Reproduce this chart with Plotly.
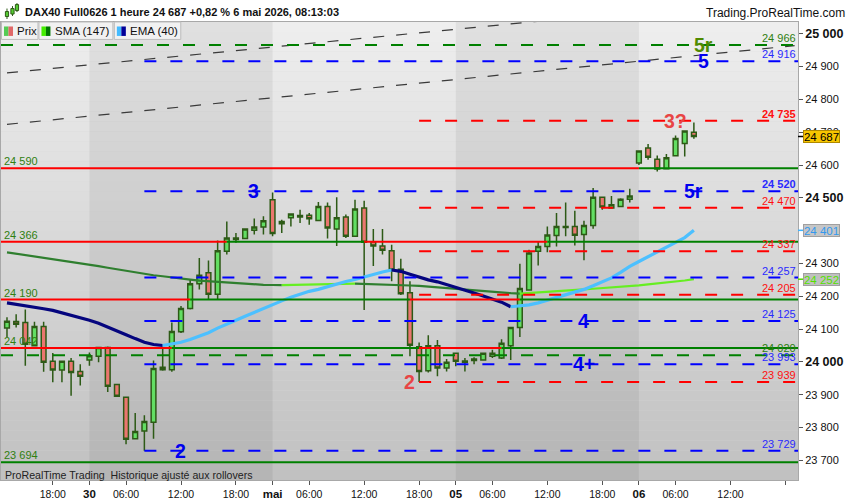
import plotly.graph_objects as go
import pandas as pd

# ------------------------------------------------------------------ data
session_days = ["2026-04-29", "2026-04-30", "2026-05-04", "2026-05-05", "2026-05-06"]
session_first_hour = [13, 2, 2, 2, 2]
session_last_hour = [21, 21, 21, 21, 21]
day_labels = ["29", "30", "mai", "05", "06"]

opens = [24103, 24123, 24120, 24049, 24108, 24002, 23975, 24002, 23971, 24006,
         24017, 24044, 23931, 23892, 23766, 23789, 23816, 23984, 23976, 24092,
         24163, 24238, 24272, 24206, 24337, 24373, 24376, 24401, 24411, 24494,
         24421, 24439, 24442, 24447, 24431, 24474, 24405, 24442, 24383, 24469,
         24366, 24353, 24339, 24282, 24211, 24046, 23973, 24049, 23981, 24026,
         23999, 24004, 24006, 24017, 24012, 24049, 24105, 24219, 24337, 24352,
         24385, 24410, 24413, 24388, 24416, 24502, 24469, 24474, 24496, 24606,
         24652, 24618, 24589, 24628, 24666, 24700]
highs = [24136, 24145, 24160, 24122, 24122, 24027, 24002, 24012, 23993, 24029,
         24044, 24047, 23931, 23892, 23844, 23837, 24004, 24039, 24120, 24170,
         24251, 24317, 24309, 24370, 24428, 24393, 24405, 24437, 24444, 24516,
         24433, 24451, 24464, 24454, 24487, 24486, 24502, 24449, 24494, 24491,
         24405, 24405, 24357, 24314, 24246, 24059, 24081, 24067, 24009, 24029,
         24012, 24014, 24026, 24037, 24069, 24105, 24299, 24342, 24368, 24413,
         24454, 24486, 24461, 24430, 24530, 24502, 24506, 24499, 24528, 24643,
         24664, 24629, 24634, 24690, 24704, 24730]
lows = [24075, 24105, 23988, 24049, 23970, 23938, 23938, 23897, 23928, 23988,
        23999, 23908, 23895, 23749, 23766, 23729, 23766, 23973, 23970, 24088,
        24160, 24221, 24189, 24191, 24327, 24363, 24376, 24388, 24388, 24383,
        24393, 24413, 24423, 24418, 24431, 24376, 24353, 24378, 24383, 24158,
        24292, 24327, 24246, 24204, 24017, 23939, 23968, 23956, 23971, 23987,
        23971, 23993, 24006, 24012, 24009, 24006, 24076, 24219, 24294, 24334,
        24352, 24383, 24355, 24310, 24406, 24464, 24469, 24471, 24486, 24600,
        24616, 24580, 24589, 24628, 24626, 24680]
closes = [24124, 24115, 24054, 24108, 23999, 23975, 24002, 23968, 23956, 24019,
          24044, 23926, 23895, 23764, 23788, 23818, 23980, 23976, 24093, 24163,
          24238, 24264, 24206, 24339, 24378, 24378, 24405, 24411, 24430, 24391,
          24428, 24451, 24446, 24436, 24474, 24408, 24439, 24383, 24466, 24365,
          24353, 24340, 24280, 24208, 24051, 23971, 24049, 23981, 23999, 24002,
          24003, 24009, 24026, 24026, 24057, 24105, 24224, 24332, 24352, 24387,
          24413, 24413, 24386, 24416, 24502, 24472, 24479, 24496, 24506, 24643,
          24624, 24588, 24622, 24681, 24704, 24687]

sma147 = [24334, 24330, 24326, 24322, 24318, 24314, 24309, 24305, 24302, 24298,
          24292, 24287, 24282, 24277, 24273, 24268, 24264, 24261, 24257, 24254,
          24251, 24248, 24246, 24244, 24241, 24239, 24238, 24236, 24235, 24234.4,
          24233.8, 24234.4, 24235.0, 24235.7, 24236.3, 24236.9, 24237.5, 24238.1, 24238.4, 24237.8,
          24236.9, 24236.0, 24235.0, 24234.1, 24232.9, 24231.4, 24229.0, 24226.9, 24224.7, 24222.3,
          24220.2, 24217.7, 24215.3, 24213.2, 24211.1, 24209.3, 24208.0, 24210.2, 24212.0, 24213.8,
          24215.6, 24217.4, 24219.3, 24221.1, 24222.9, 24224.7, 24226.6, 24228.4, 24230.8, 24233.2,
          24236.0, 24238.7, 24241.4, 24244.5, 24248.1, 24252.0]
ema40 = [24180, 24176, 24171, 24166, 24162, 24157, 24150, 24142, 24135, 24127,
         24118, 24107, 24095, 24083, 24071, 24060, 24053, 24050, 24054, 24060,
         24068, 24078, 24089, 24103, 24116, 24127, 24139, 24151, 24163, 24176,
         24186, 24197, 24206, 24215, 24221, 24229, 24238, 24245, 24251, 24259,
         24265, 24274, 24280, 24276, 24267, 24258, 24250, 24244, 24236, 24227,
         24218, 24210, 24201, 24192, 24182, 24168, 24170, 24174, 24180, 24188,
         24195, 24203, 24212, 24221, 24232, 24244, 24256, 24273, 24291, 24306,
         24321, 24336, 24350, 24364, 24379, 24401]

# solid support / resistance levels, bar index where price flips side
solid_levels = [24590, 24366, 24190, 24042, 23694]
solid_flip_bars = [[69], [24, 39, 59], [20, 44, 56], [18, 45, 54], []]
solid_price_above_at_start = [False, False, False, False, True]

# dashed projection levels, group and first bar
dashed_levels = [24966, 24916, 24735, 24520, 24470, 24337, 24257, 24205, 24125, 24020, 23993, 23939, 23729]
dashed_group = ["green", "blue", "red", "blue", "red", "red", "blue", "red", "blue", "green", "blue", "red", "blue"]
dashed_first_bar = [None, 15, 45, 15, 45, 45, 15, 45, 15, None, 15, 45, 15]
dashed_label_bold = [False, False, True, True, False, False, False, False, False, False, False, False, False]

# trend lines (value at two bar indices)
trend_bars = [[0, 86], [0, 86]]
trend_values = [[24881, 25114], [24724, 24964]]

# wave counts
wave_text = ["5r", "5", "3?", "3", "5r", "4", "4+", "2", "2"]
wave_level = [24966, 24916, 24735, 24520, 24520, 24125, 23993, 23939, 23729]
wave_bar = [76.1, 76.0, 73.0, 26.9, 75.0, 62.9, 63.0, 43.9, 18.9]
wave_group = ["olive", "blue", "red", "blue", "blue", "blue", "blue", "red", "blue"]

y_ticks = list(range(23700, 25001, 100))
last_price = 24687
title_text = "DAX40 Full0626 1 heure 24 687 +0,82 % 6 mai 2026, 08:13:03"

# ------------------------------------------------------------------ styles
FONT = "Liberation Sans, Arial, sans-serif"
W, H = 850, 500
ML, MR, MT, MB = 0, 52, 22, 18
PW, PH = W - ML - MR, H - MT - MB
X_LEFT, X_RIGHT = -0.6543, 86.369
Y_LO, Y_HI = 23640, 25036
COL = {"red": "#ff0000", "green": "#008000", "blue": "#0000ff", "olive": "#4f8a00"}
LBL = {"red": "#ff1010", "green": "#2f7f10", "blue": "#2a2aff"}
WAVE = {"red": "#e84545", "blue": "#0000ee", "olive": "#4f8a00"}


def fx(px):
    return (px - ML) / PW


def fy(py):
    return (MT + PH - py) / PH


def fmt(v):
    return f"{v:,}".replace(",", " ")


# ------------------------------------------------------------------ timeline / ticks
times, sess = [], []
for k, (d, h0, h1) in enumerate(zip(session_days, session_first_hour, session_last_hour)):
    for h in range(h0, h1 + 1):
        times.append(pd.Timestamp(d) + pd.Timedelta(hours=h))
        sess.append(k)
idx = list(range(len(opens)))

tick_vals, tick_text = [], []
for i, t in enumerate(times):
    if i > 0 and sess[i] != sess[i - 1]:
        tick_vals.append(i)
        tick_text.append(f"<span style='font-size:11.5px'><b>{day_labels[sess[i]]}</b></span>")
    elif t.hour in (6, 12, 18):
        tick_vals.append(i)
        tick_text.append(f"{t.hour:02d}:00" if i < 82 else "")

day_start = [i for i in range(1, len(times)) if sess[i] != sess[i - 1]]

fig = go.Figure()

# candles
fig.add_trace(go.Candlestick(
    x=idx, open=opens, high=highs, low=lows, close=closes,
    increasing=dict(line=dict(color="#2d5a16", width=1.5), fillcolor="#63de63"),
    decreasing=dict(line=dict(color="#2d5a16", width=1.5), fillcolor="#ea766f"),
    whiskerwidth=0, showlegend=False, hoverinfo="skip"))


# moving averages coloured by slope
def add_ma(values, rise_col, fall_col, width):
    start = 0
    for i in range(1, len(values)):
        up = values[i] > values[i - 1]
        nxt_up = values[i + 1] > values[i] if i + 1 < len(values) else None
        if nxt_up is None or nxt_up != up:
            fig.add_trace(go.Scatter(
                x=idx[start:i + 1], y=values[start:i + 1], mode="lines",
                line=dict(color=rise_col if up else fall_col, width=width),
                showlegend=False, hoverinfo="skip"))
            start = i


add_ma(sma147, "#66ee22", "#2f7f2f", 2.2)
add_ma(ema40, "#4cc0ff", "#05057e", 3.2)

# trend lines
for bx, bv in zip(trend_bars, trend_values):
    fig.add_trace(go.Scatter(x=bx, y=bv, mode="lines",
                             line=dict(color="#3a3a3a", width=1.2, dash="11px,12px"),
                             showlegend=False, hoverinfo="skip"))

# dashed levels
for lvl, grp, fb in zip(dashed_levels, dashed_group, dashed_first_bar):
    x0 = X_LEFT if fb is None else fb
    fig.add_trace(go.Scatter(x=[x0, X_RIGHT + 1], y=[lvl, lvl], mode="lines",
                             line=dict(color=COL[grp], width=2, dash="12px,14px"),
                             showlegend=False, hoverinfo="skip"))

# solid levels
for lvl, flips, above in zip(solid_levels, solid_flip_bars, solid_price_above_at_start):
    bounds = [X_LEFT - 1] + flips + [X_RIGHT + 1]
    state = above
    for k in range(len(bounds) - 1):
        fig.add_trace(go.Scatter(x=[bounds[k], bounds[k + 1]], y=[lvl, lvl], mode="lines",
                                 line=dict(color=COL["green"] if state else COL["red"], width=2),
                                 showlegend=False, hoverinfo="skip"))
        state = not state

# ------------------------------------------------------------------ shapes
shapes = []
NB = 46
top_c, bot_c = 238, 193
for k in range(NB):
    c = int(round(bot_c + (top_c - bot_c) * (k + 0.5) / NB))
    shapes.append(dict(type="rect", xref="paper", yref="paper", x0=0, x1=1,
                       y0=k / NB, y1=(k + 1) / NB, line=dict(width=0),
                       fillcolor=f"rgb({c},{c},{c})", layer="below"))
for a in range(0, len(day_start) - 1, 2):
    shapes.append(dict(type="rect", xref="x", yref="paper", x0=day_start[a], x1=day_start[a + 1],
                       y0=0, y1=1, line=dict(width=0), fillcolor="rgba(0,0,0,0.058)", layer="below"))

# legend boxes
boxes = [(0.5, 37, "Prix", ("#55cc55", "#e06868")),
         (38, 112, "SMA (147)", ("#44ee00", "#007700")),
         (113.5, 180, "EMA (40)", ("#44bbff", "#000099"))]
annotations = []
for x0, x1, txt, (c1, c2) in boxes:
    shapes.append(dict(type="rect", xref="paper", yref="paper", x0=fx(x0), x1=fx(x1),
                       y0=fy(39.5), y1=fy(22), line=dict(color="#bdbdbd", width=1),
                       fillcolor="#f1f1f1", layer="above"))
    shapes.append(dict(type="rect", xref="paper", yref="paper", x0=fx(x0 + 2.5), x1=fx(x0 + 7),
                       y0=fy(36), y1=fy(26.5), line=dict(width=0), fillcolor=c1, layer="above"))
    shapes.append(dict(type="rect", xref="paper", yref="paper", x0=fx(x0 + 7), x1=fx(x0 + 11.5),
                       y0=fy(36), y1=fy(26.5), line=dict(width=0), fillcolor=c2, layer="above"))
    annotations.append(dict(text=txt, xref="paper", yref="paper", x=fx(x0 + 14), y=fy(31),
                            xanchor="left", yanchor="middle", showarrow=False,
                            font=dict(family=FONT, size=11.5, color="#111")))

# title icon (small candles)
for (cx, b0, b1, w0, w1) in [(6, 11.5, 16.5, 8.5, 19), (11.5, 8.5, 14, 6, 16), (16, 4.5, 10.5, 3, 12)]:
    shapes.append(dict(type="line", xref="paper", yref="paper", x0=fx(cx), x1=fx(cx),
                       y0=fy(w1), y1=fy(w0), line=dict(color="#2d5a16", width=1)))
    shapes.append(dict(type="rect", xref="paper", yref="paper", x0=fx(cx - 1.6), x1=fx(cx + 1.6),
                       y0=fy(b1), y1=fy(b0), line=dict(color="#2d5a16", width=1), fillcolor="#55cc33"))

# axis price tags
tags = [(last_price, "#000000", "#f7c600", "#b08a00", "#000000"),
        (ema40[-1], "#3fb3ff", "#c6c6c6", "#a0a0a0", "#3399ee"),
        (sma147[-1], "#55dd00", "#c0c0c0", "#a0a0a0", "#55e000")]
for v, tickc, bg, bc, tc in tags:
    shapes.append(dict(type="line", xref="paper", yref="y", x0=1, x1=fx(PW + 5),
                       y0=v, y1=v, line=dict(color=tickc, width=1.5)))
    annotations.append(dict(text=fmt(int(round(v))), xref="paper", yref="y", x=fx(PW + 5), y=v,
                            xanchor="left", yanchor="middle", showarrow=False,
                            bgcolor=bg, bordercolor=bc, borderwidth=1, borderpad=0,
                            width=35, height=11,
                            font=dict(family=FONT, size=11.5, color=tc)))

# level value labels
for lvl, grp, bold in zip(dashed_levels, dashed_group, dashed_label_bold):
    txt = f"<b>{fmt(lvl)}</b>" if bold else fmt(lvl)
    annotations.append(dict(text=txt, xref="paper", yref="y", x=1, y=lvl, xshift=-1,
                            xanchor="right", yanchor="bottom", showarrow=False, borderpad=0,
                            font=dict(family=FONT, size=11, color=LBL[grp])))
for lvl in solid_levels:
    annotations.append(dict(text=fmt(lvl), xref="paper", yref="y", x=0, y=lvl, xshift=2,
                            xanchor="left", yanchor="bottom", showarrow=False, borderpad=0,
                            font=dict(family=FONT, size=11, color=LBL["green"])))

# wave labels
for t, lvl, b, g in zip(wave_text, wave_level, wave_bar, wave_group):
    annotations.append(dict(text=f"<b>{t}</b>", xref="x", yref="y", x=b, y=lvl,
                            xanchor="center", yanchor="middle", showarrow=False,
                            font=dict(family=FONT, size=19.5, color=WAVE[g])))

# titles / footer
annotations.append(dict(text=f"<b>{title_text}</b>", xref="paper", yref="paper", x=fx(22.5), y=fy(12),
                        xanchor="left", yanchor="middle", showarrow=False,
                        font=dict(family=FONT, size=11, color="#111")))
annotations.append(dict(text="Trading.ProRealTime.com", xref="paper", yref="paper", x=fx(847), y=fy(12.5),
                        xanchor="right", yanchor="middle", showarrow=False,
                        font=dict(family=FONT, size=12, color="#111")))
annotations.append(dict(text="ProRealTime Trading\u00a0\u00a0Historique ajusté aux rollovers",
                        xref="paper", yref="paper", x=fx(2), y=fy(476.5),
                        xanchor="left", yanchor="middle", showarrow=False,
                        font=dict(family=FONT, size=10.6, color="#222")))

y_text = [f"<span style='font-size:12.5px'><b>{fmt(v)}</b></span>" if v % 500 == 0 else fmt(v)
          for v in y_ticks]

fig.update_layout(
    width=W, height=H, margin=dict(l=ML, r=MR, t=MT, b=MB, pad=0),
    paper_bgcolor="#ffffff", plot_bgcolor="#d6d6d6",
    showlegend=False, hovermode=False, boxgap=0.26,
    font=dict(family=FONT, size=11, color="#111"),
    shapes=shapes, annotations=annotations,
    xaxis=dict(range=[X_LEFT, X_RIGHT], tickmode="array", tickvals=tick_vals, ticktext=tick_text,
               ticks="outside", ticklen=4, tickcolor="#555", tickfont=dict(size=10.5, color="#111"),
               showgrid=False, zeroline=False, showline=True, linecolor="#a8a8a8", mirror=True,
               rangeslider=dict(visible=False), fixedrange=True),
    yaxis=dict(range=[Y_LO, Y_HI], side="right", tickmode="array", tickvals=y_ticks, ticktext=y_text,
               ticks="outside", ticklen=4, tickcolor="#555", tickfont=dict(size=11, color="#111"),
               showgrid=False, zeroline=False, showline=True, linecolor="#a8a8a8", mirror=True,
               fixedrange=True),
)

fig.write_html("out.html", config={"displayModeBar": False},
               post_script="document.body.style.margin='0';document.body.style.overflow='hidden';")
